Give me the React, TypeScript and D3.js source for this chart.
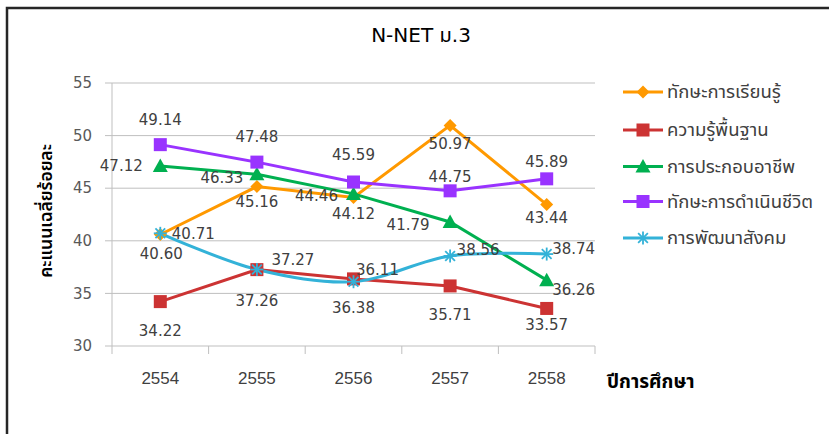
import React from "react";
import * as d3 from "d3";

const years = ["2554", "2555", "2556", "2557", "2558"];
const yTicks = [30, 35, 40, 45, 50, 55];

const learningSkills = [40.6, 45.16, 44.12, 50.97, 43.44];
const basicKnowledge = [34.22, 37.26, 36.38, 35.71, 33.57];
const occupation = [47.12, 46.33, 44.46, 41.79, 36.26];
const lifeSkills = [49.14, 47.48, 45.59, 44.75, 45.89];
const socialDev = [40.71, 37.27, 36.11, 38.56, 38.74];

const seriesNames = [
  "ทักษะการเรียนรู้",
  "ความรู้พื้นฐาน",
  "การประกอบอาชีพ",
  "ทักษะการดำเนินชีวิต",
  "การพัฒนาสังคม",
];

const title = "N-NET ม.3";
const yTitle = "คะแนนเฉลี่ยร้อยละ";
const xTitle = "ปีการศึกษา";

// label offsets (dx, dy) relative to the point, pixels
const labelOffsets: [number, number][][] = [
  [[1, 19], [0, 15], [0, 16], [0, 18], [0, 13]],
  [[0, 29], [0, 31], [0, 29], [0, 29], [0, 16]],
  [[-39, 0], [-35, 4], [-37, 2], [-42, 3], [27, 10]],
  [[0, -25], [0, -25], [0, -27], [0, -14], [0, -17]],
  [[33, 0], [36, -10], [24, -12], [28, -6], [27, -5]],
];

const colors = ["#FF9900", "#CC3333", "#00B050", "#9933FF", "#33B2D8"];
const markers = ["diamond", "square", "triangle", "square", "asterisk"];
const smooth = [false, false, false, false, true];

const W = 829;
const H = 434;
const plot = { left: 112, right: 595, top: 83, bottom: 346 };

function Marker({ kind, x, y, color }: { kind: string; x: number; y: number; color: string }) {
  if (kind === "diamond") {
    const s = 6.5;
    return <path d={`M${x},${y - s}L${x + s},${y}L${x},${y + s}L${x - s},${y}Z`} fill={color} />;
  }
  if (kind === "square") {
    const s = 6.5;
    return <rect x={x - s} y={y - s} width={2 * s} height={2 * s} fill={color} />;
  }
  if (kind === "triangle") {
    const s = 7.5;
    return <path d={`M${x},${y - s}L${x + s},${y + s * 0.8}L${x - s},${y + s * 0.8}Z`} fill={color} />;
  }
  const s = 6.5;
  return (
    <g stroke={color} strokeWidth={1.8}>
      <line x1={x - s} y1={y} x2={x + s} y2={y} />
      <line x1={x} y1={y - s} x2={x} y2={y + s} />
      <line x1={x - s * 0.75} y1={y - s * 0.75} x2={x + s * 0.75} y2={y + s * 0.75} />
      <line x1={x - s * 0.75} y1={y + s * 0.75} x2={x + s * 0.75} y2={y - s * 0.75} />
    </g>
  );
}

export default function App() {
  const x = d3.scaleBand<string>().domain(years).range([plot.left, plot.right]);
  const y = d3.scaleLinear().domain([30, 55]).range([plot.bottom, plot.top]);
  const cx = (c: string) => (x(c) as number) + x.bandwidth() / 2;
  const allSeries = [learningSkills, basicKnowledge, occupation, lifeSkills, socialDev];

  const bounds = [...years.map((c) => x(c) as number), plot.right];
  const labelFont = "DejaVu Sans, Verdana, sans-serif";
  const thaiFont = "'Noto Sans Thai', 'Noto Sans', 'DejaVu Sans', sans-serif";

  return (
    <svg width={W} height={H} style={{ position: "absolute", left: 0, top: 0, background: "#fff" }}>
      <rect x={0} y={0} width={W} height={H} fill="#fff" />
      {/* frame */}
      <path d={`M7,${H}L7,8L${W},8`} fill="none" stroke="#262626" strokeWidth={2.5} />
      <text x={421} y={42} textAnchor="middle" fontSize={20} fontFamily="'DejaVu Sans', 'Noto Sans Thai', sans-serif" fill="#000">
        {title}
      </text>
      {/* grid */}
      {yTicks.map((t) => (
        <g key={t}>
          <line x1={plot.left - 7} x2={plot.right} y1={y(t)} y2={y(t)} stroke="#BFBFBF" strokeWidth={1} />
          <text x={92} y={y(t)} dy="0.35em" textAnchor="end" fontSize={15} fill="#595959" fontFamily={labelFont}>
            {t}
          </text>
        </g>
      ))}
      <line x1={plot.left} x2={plot.left} y1={plot.top} y2={plot.bottom} stroke="#BFBFBF" />
      {bounds.map((b, i) => (
        <line key={i} x1={b} x2={b} y1={plot.bottom} y2={plot.bottom + 8} stroke="#BFBFBF" />
      ))}
      {years.map((c) => (
        <text key={c} x={cx(c)} y={384} textAnchor="middle" fontSize={17} fill="#404040"
          fontFamily="'Liberation Sans Narrow', 'Arial Narrow', sans-serif">
          {c}
        </text>
      ))}
      <text x={607} y={388} fontSize={19} fontWeight="bold" fill="#000" fontFamily={thaiFont}>
        {xTitle}
      </text>
      <text transform={`translate(52,211) rotate(-90)`} textAnchor="middle" fontSize={17.5} fontWeight={600}
        fill="#000" fontFamily={thaiFont}>
        {yTitle}
      </text>
      {/* series */}
      {allSeries.map((vals, si) => {
        const line = d3
          .line<number>()
          .x((_, i) => cx(years[i]))
          .y((v) => y(v))
          .curve(smooth[si] ? d3.curveCatmullRom.alpha(0.5) : d3.curveLinear);
        return (
          <g key={si}>
            <path d={line(vals) || ""} fill="none" stroke={colors[si]} strokeWidth={3} />
          </g>
        );
      })}
      {allSeries.map((vals, si) => (
        <g key={"m" + si}>
          {vals.map((v, i) => (
            <Marker key={i} kind={markers[si]} x={cx(years[i])} y={y(v)} color={colors[si]} />
          ))}
        </g>
      ))}
      {allSeries.map((vals, si) => (
        <g key={"l" + si}>
          {vals.map((v, i) => (
            <text key={i} x={cx(years[i]) + labelOffsets[si][i][0]} y={y(v) + labelOffsets[si][i][1]}
              dy="0.35em" textAnchor="middle" fontSize={15} fill="#404040" fontFamily={labelFont}>
              {v.toFixed(2)}
            </text>
          ))}
        </g>
      ))}
      {/* legend */}
      {seriesNames.map((n, i) => {
        const ly = [92, 130, 166.5, 201.5, 238][i];
        return (
          <g key={n}>
            <line x1={623} x2={663} y1={ly} y2={ly} stroke={colors[i]} strokeWidth={3} />
            <Marker kind={markers[i]} x={643} y={ly} color={colors[i]} />
            <text x={667} y={ly} dy="0.35em" fontSize={18.5} fill="#404040" fontFamily={thaiFont}>
              {n}
            </text>
          </g>
        );
      })}
    </svg>
  );
}
